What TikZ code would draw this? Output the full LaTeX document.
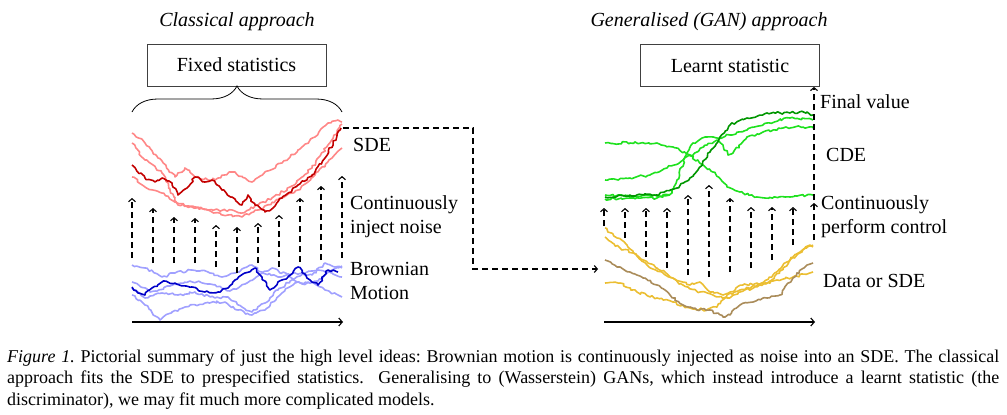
\documentclass[tikz,border=0pt]{standalone}
\usepackage{fontspec}
\setmainfont{Liberation Serif}
\usetikzlibrary{decorations.pathreplacing,decorations.pathmorphing,arrows.meta}
\definecolor{sdedark}{RGB}{195,0,0}
\definecolor{sdelight}{RGB}{255,135,135}
\definecolor{bmdark}{RGB}{0,0,200}
\definecolor{bmlight}{RGB}{160,160,255}
\definecolor{cdelight}{RGB}{30,225,30}
\definecolor{cdedark}{RGB}{0,150,0}
\definecolor{datay}{RGB}{235,190,50}
\definecolor{datab}{RGB}{170,140,90}
\tikzset{
  walk/.style={line width=1.6pt, line join=round, decorate,
    decoration={random steps, segment length=2.6pt, amplitude=1.3pt}},
  darr/.style={line width=1.1pt, dash pattern=on 6pt off 4pt, -{Straight Barb[length=3pt,width=7pt]}},
  axisarr/.style={line width=1.1pt, -{Straight Barb[length=3.5pt,width=8pt]}},
  lbl/.style={anchor=west, inner sep=0pt, font=\fontsize{20}{24}\selectfont, align=left},
  ttl/.style={inner sep=0pt, font=\fontsize{20}{24}\selectfont\itshape},
  statbox/.style={draw=black!75, line width=0.8pt, minimum width=179pt, minimum height=42pt, inner sep=0pt, font=\fontsize{20}{24}\selectfont},
}
\newcommand{\capfont}{\fontsize{18}{21.5}\selectfont\frenchspacing}
\begin{document}
\begin{tikzpicture}[x=1pt,y=-1pt]
\pgfmathsetseed{7}
\useasboundingbox (0,0) rectangle (1007,415);

% ---------- titles and boxes
\node[ttl] (t1) at (237,22) {Classical approach};
\node[ttl] (t2) at (709,22) {Generalised (GAN) approach};
\node[statbox] (fixed) at (236.5,65) {Fixed statistics};
\node[statbox] (learnt) at (730,65.5) {Learnt statistic};

% ---------- brace
\coordinate (brL) at (132,112);
\coordinate (brR) at (342,112);
\draw[line width=0.8pt, decorate, decoration={brace, amplitude=26pt}] (brL) -- (brR);

% ---------- SDE paths (red)
\draw[walk, sdelight] (132,133) -- (145,143) -- (158,158) -- (175,177) -- (185,168) -- (195,177) -- (208,180) -- (218,178) -- (232,172) -- (245,178) -- (252,182) -- (265,172) -- (282,163) -- (298,150) -- (315,137) -- (328,123) -- (338,120) -- (342,122);
\draw[walk, sdelight] (132,143) -- (145,160) -- (162,173) -- (177,203) -- (192,207) -- (208,210) -- (225,210) -- (242,213) -- (258,205) -- (272,198) -- (292,186) -- (312,168) -- (328,145) -- (342,124);
\draw[walk, sdelight] (132,177) -- (145,187) -- (162,193) -- (178,205) -- (195,207) -- (212,212) -- (228,215) -- (242,217) -- (258,210) -- (278,200) -- (298,190) -- (315,175) -- (332,158) -- (342,148);
\draw[walk, sdedark] (132,165) -- (145,178) -- (155,182) -- (162,178) -- (172,183) -- (178,195) -- (187,188) -- (195,177) -- (205,182) -- (212,180) -- (222,190) -- (232,197) -- (242,205) -- (248,195) -- (255,205) -- (265,212) -- (273,208) -- (282,198) -- (298,185) -- (312,175) -- (325,158) -- (341,128);
\coordinate (sdeend) at (343,128);

% ---------- Brownian paths (blue)
\draw[walk, bmlight] (132,265) -- (145,268) -- (162,277) -- (175,273) -- (192,270) -- (208,272) -- (222,277) -- (235,273) -- (252,265) -- (262,272) -- (278,277) -- (295,273) -- (312,275) -- (325,263) -- (335,267) -- (342,268);
\draw[walk, bmlight] (132,288) -- (145,298) -- (162,293) -- (178,295) -- (195,292) -- (215,298) -- (228,297) -- (242,307) -- (252,312) -- (265,303) -- (278,290) -- (292,280) -- (305,273) -- (318,270) -- (332,273) -- (342,277);
\draw[walk, bmlight] (132,295) -- (145,305) -- (160,320) -- (172,312) -- (185,307) -- (205,303) -- (225,302) -- (238,310) -- (252,315) -- (265,310) -- (282,293) -- (295,283) -- (312,282) -- (325,290) -- (342,297);
\draw[walk, bmlight] (132,282) -- (150,292) -- (170,286) -- (190,281) -- (210,284) -- (230,291) -- (245,284) -- (258,276) -- (272,268) -- (288,275) -- (302,284) -- (318,281) -- (332,270) -- (342,266);
\draw[walk, bmdark] (132,287) -- (138,293) -- (145,295) -- (152,288) -- (162,282) -- (175,283) -- (192,287) -- (205,292) -- (218,292) -- (228,288) -- (235,280) -- (245,273) -- (255,268) -- (262,277) -- (270,290) -- (278,282) -- (288,277) -- (298,267) -- (307,278) -- (318,285) -- (328,270) -- (338,272);

% ---------- noise injection arrows
\foreach \x/\t/\b [count=\i] in {132/198/258,153/208/263,174/217/263,195/218/263,216/225/267,237/227/273,258/223/263,279/215/267,300/198/262,321/186/260,342/176/258}{
  \coordinate (lb\i) at (\x,\b);
  \coordinate (lt\i) at (\x,\t);
  \draw[darr] (lb\i) -- (lt\i);
}

% ---------- left axis
\coordinate (ax1a) at (132,322);
\coordinate (ax1b) at (343,322);
\draw[axisarr] (ax1a) -- (ax1b);

% ---------- left labels
\node[lbl] (sde) at (353,145) {SDE};
\node[lbl] (inj) at (350,216.5) {Continuously\\inject noise};
\node[lbl] (bm) at (350,281) {Brownian\\Motion};

% ---------- connector SDE -> data
\coordinate (turn) at (473,269);
\coordinate (datain) at (598,269);
\draw[darr] (sdeend) -| (turn) -- (datain);

% ---------- data paths (yellow / brown)
\draw[walk, datay] (605,228) -- (617,238) -- (627,245) -- (640,258) -- (657,268) -- (673,278) -- (690,285) -- (700,282) -- (710,292) -- (723,295) -- (730,292) -- (743,285) -- (757,283) -- (770,283) -- (783,268) -- (797,255) -- (810,245) -- (813,247);
\draw[walk, datay] (605,237) -- (620,248) -- (633,253) -- (647,265) -- (663,273) -- (683,285) -- (700,292) -- (713,295) -- (727,298) -- (740,292) -- (757,287) -- (773,275) -- (787,262) -- (800,252) -- (813,245);
\draw[walk, datay] (605,283) -- (620,283) -- (637,292) -- (657,298) -- (673,302) -- (690,308) -- (707,310) -- (717,307) -- (727,295) -- (740,290) -- (760,285) -- (777,280) -- (793,277) -- (813,272);
\draw[walk, datab] (605,260) -- (617,267) -- (630,272) -- (643,278) -- (657,285) -- (670,295) -- (683,305) -- (697,310) -- (710,310) -- (723,317) -- (730,315) -- (740,305) -- (753,302) -- (767,298) -- (780,295) -- (793,278) -- (807,265) -- (813,263);

% ---------- CDE paths (green)
\draw[walk, cdelight] (605,143) -- (630,143) -- (657,143) -- (673,147) -- (690,155) -- (703,165) -- (713,172) -- (727,187) -- (740,192) -- (757,197) -- (790,197) -- (813,195);
\draw[walk, cdelight] (605,180) -- (630,178) -- (650,175) -- (667,168) -- (683,160) -- (697,152) -- (707,145) -- (717,140) -- (723,145) -- (728,155) -- (733,153) -- (747,137) -- (763,132) -- (783,128) -- (803,127) -- (813,128);
\draw[walk, cdelight] (605,199) -- (630,198) -- (657,198) -- (672,193) -- (677,180) -- (685,157) -- (693,143) -- (707,137) -- (717,138) -- (730,135) -- (747,130) -- (767,123) -- (790,118) -- (813,120);
\draw[walk, cdelight] (605,195) -- (630,196) -- (657,196) -- (670,195);
\draw[walk, cdedark] (605,197) -- (630,195) -- (657,195) -- (677,188) -- (690,178) -- (700,167) -- (710,152) -- (720,137) -- (730,125) -- (747,118) -- (767,113) -- (790,113) -- (807,112) -- (813,115);

% ---------- control arrows
\foreach \x/\t/\b [count=\i] in {604/208/226,625/208/238,646/208/257,667/208/268,688/195/275,709/185/277,730/198/272,751/207/268,772/207/260,793/207/245,814/203/240}{
  \coordinate (rb\i) at (\x,\b);
  \coordinate (rt\i) at (\x,\t);
  \draw[darr] (rb\i) -- (rt\i);
}

% ---------- final value arrow
\coordinate (fv) at (814,200);
\draw[darr] (fv) -- (fv |- learnt.south);

% ---------- right axis
\coordinate (ax2a) at (604,322);
\coordinate (ax2b) at (815,322);
\draw[axisarr] (ax2a) -- (ax2b);

% ---------- right labels
\node[lbl] (final) at (820,102) {Final value};
\node[lbl] (cde) at (826,155) {CDE};
\node[lbl] (ctrl) at (821,216.5) {Continuously\\perform control};
\node[lbl] (data) at (823,281) {Data or SDE};

% ---------- caption
\node[anchor=base west, inner sep=0pt, font=\capfont] (cap1) at (7,362) {\makebox[992pt][s]{\textit{Figure 1.} Pictorial summary of just the high level ideas: Brownian motion is continuously injected as noise into an SDE. The classical}};
\node[anchor=base west, inner sep=0pt, font=\capfont] (cap2) at (7,383.5) {\makebox[992pt][s]{approach fits the SDE to prespecified statistics.\ \ Generalising to (Wasserstein) GANs, which instead introduce a learnt statistic (the}};
\node[anchor=base west, inner sep=0pt, font=\capfont] (cap3) at (7,405) {discriminator), we may fit much more complicated models.};
\end{tikzpicture}
\end{document}
